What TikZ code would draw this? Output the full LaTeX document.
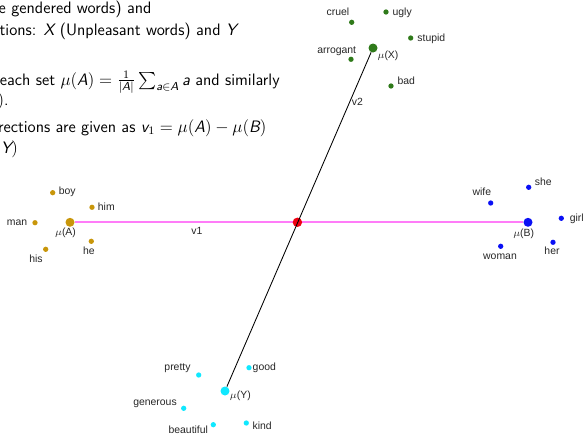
\documentclass[tikz,border=0pt]{standalone}
\usepackage{fontspec}
\usepackage{amsmath}
\usepackage{tikz}
\newfontfamily\lblfont{Liberation Sans}
\definecolor{agold}{HTML}{C8960A}
\definecolor{bblue}{HTML}{0A10F5}
\definecolor{xgreen}{HTML}{2F7A1A}
\definecolor{ycyan}{HTML}{10E8FF}
\definecolor{vpink}{HTML}{FF7CF8}
\definecolor{midred}{HTML}{F00010}
% italic sans letters inside math, as on the slide
\newcommand{\sv}[1]{\text{\itshape #1}}

\begin{document}
\begin{tikzpicture}[x=0.7pt, y=-0.7pt,
        every node/.style={inner sep=0pt},
        wdot/.style={circle, inner sep=0pt, minimum size=3.7pt},
        mdot/.style={circle, inner sep=0pt, minimum size=6.3pt},
        wlbl/.style={anchor=mid, font=\lblfont\fontsize{7.3}{8}\selectfont, text=black!85},
        slide/.style={anchor=base east, font=\sffamily\fontsize{11.6}{14}\selectfont}]
      % Page frame (pixel grid, y downwards)
      \useasboundingbox (0,0) rectangle (585,436);
      \clip (0,0) rectangle (585,436);

      % Slide text, cut off on the left
      \node[slide] (line1) at (151.7,13) {e gendered words) and};
      \node[slide] (line2) at (237,35) {tions: $\sv{X}$ (Unpleasant words) and $\sv{Y}$};
      \node[slide] (line3) at (280,85)
        {each set $\mu(\sv{A})=\frac{1}{|\sv{A}|}\sum_{\sv{a}\in \sv{A}}\sv{a}$ and similarly};
      \node[slide] (line4) at (9,105) {$)$.};
      \node[slide] (line5) at (266.7,132)
        {rections are given as $\sv{v}_{1}=\mu(\sv{A})-\mu(\sv{B})$};
      \node[slide] (line6) at (18.3,153) {$\sv{Y})$};

      % Set A (male words)
      \foreach \n/\x/\y/\lx/\ly in {boy/52.7/192.7/67.3/191.3, him/92/207.3/106.3/207.3,
          man/35/222.7/17/222.7, he/91.3/241.3/88.8/251, his/45.7/249.3/36/259} {
        \node[wdot, fill=agold] (\n) at (\x,\y) {};
        \node[wlbl] (\n-lbl) at (\lx,\ly) {\n};
      }
      % Set B (female words)
      \foreach \n/\x/\y/\lx/\ly in {she/528.7/187.3/543.2/182.7, wife/490.7/203/481.8/192.7,
          girl/561.3/218.3/576.7/218.3, woman/500.7/246.3/500/256.7, her/553/242.3/552/251} {
        \node[wdot, fill=bblue] (\n) at (\x,\y) {};
        \node[wlbl] (\n-lbl) at (\lx,\ly) {\n};
      }
      % Set X (unpleasant words)
      \foreach \n/\x/\y/\lx/\ly in {cruel/351.7/22.3/338/12.7, ugly/386/12/402.2/12.7,
          stupid/410.7/38/431.3/38.3, arrogant/351/59.3/336.7/50, bad/391/86/406.3/81} {
        \node[wdot, fill=xgreen] (\n) at (\x,\y) {};
        \node[wlbl] (\n-lbl) at (\lx,\ly) {\n};
      }
      % Set Y (pleasant words)
      \foreach \n/\x/\y/\lx/\ly in {pretty/198.7/375/177.5/367.7, good/249/367.7/264.3/367.3,
          generous/183.7/408.3/155/402.7, beautiful/213.3/424.7/188.3/430.7,
          kind/246.3/423/262.2/426} {
        \node[wdot, fill=ycyan] (\n) at (\x,\y) {};
        \node[wlbl] (\n-lbl) at (\lx,\ly) {\n};
      }

      % Means of the four sets
      \node[mdot, fill=agold] (muA) at (70,222.3) {};
      \node[mdot, fill=bblue] (muB) at (528,222.3) {};
      \node[mdot, fill=xgreen] (muX) at (373,48) {};
      \node[mdot, fill=ycyan] (muY) at (225,391) {};
      \node[wlbl] (muA-lbl) at (65.5,232.3) {$\mu$(A)};
      \node[wlbl] (muB-lbl) at (523.7,233.3) {$\mu$(B)};
      \node[wlbl] (muX-lbl) at (388,55) {$\mu$(X)};
      \node[wlbl] (muY-lbl) at (240.3,395) {$\mu$(Y)};

      % Direction v1, crossing point, direction v2
      \draw[vpink, line width=1.5pt] (muA) -- (muB);
      \node[mdot, minimum size=6.6pt, fill=midred] (cross) at (297.4,222.3) {};
      \draw[black, line width=0.6pt] (muX) -- (muY);
      \node[wlbl] (v1) at (197,231) {v1};
      \node[wlbl] (v2) at (357.5,102.7) {v2};

    \end{tikzpicture}
\end{document}
